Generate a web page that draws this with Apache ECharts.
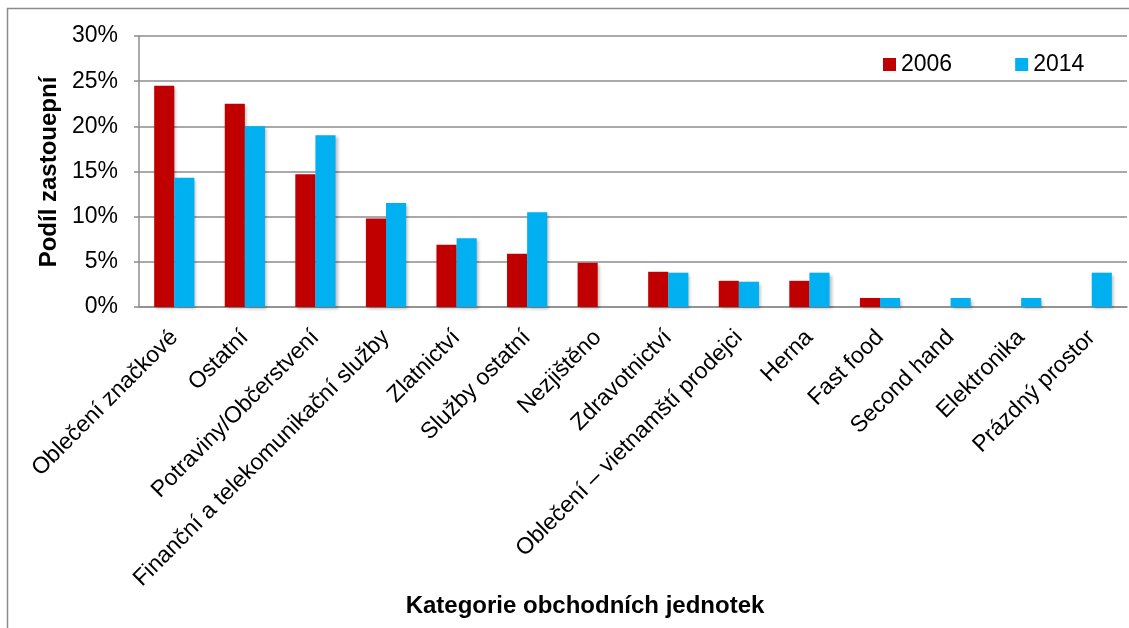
<!DOCTYPE html>
<html>
<head>
<meta charset="utf-8">
<script src="https://cdn.jsdelivr.net/npm/echarts@6/dist/echarts.min.js"></script>
<style>
  html, body { margin: 0; padding: 0; background: #fff; }
  #chart { width: 1129px; height: 628px; }
</style>
</head>
<body>
<div id="chart"></div>
<script>
// Kategorie obchodních jednotek
const categories = [
  'Oblečení značkové', 'Ostatní', 'Potraviny/Občerstvení',
  'Finanční a telekomunikační služby', 'Zlatnictví', 'Služby ostatní',
  'Nezjištěno', 'Zdravotnictví', 'Oblečení – vietnamští prodejci',
  'Herna', 'Fast food', 'Second hand', 'Elektronika', 'Prázdný prostor'
];
// Podíl v procentech
const values2006 = [24.5, 22.5, 14.7, 9.8, 6.9, 5.9, 4.9, 3.9, 2.9, 2.9, 1.0, 0, 0, 0];
const values2014 = [14.3, 20.0, 19.0, 11.5, 7.6, 10.5, 0, 3.8, 2.8, 3.8, 1.0, 1.0, 1.0, 3.8];
const seriesNames = ['2006', '2014'];
const yTicks = { min: 0, max: 30, interval: 5 };

const font = 'Liberation Sans, Arial, sans-serif';
const chart = echarts.init(document.getElementById('chart'));

const barShadow = {
  shadowBlur: 3,
  shadowOffsetX: 2,
  shadowOffsetY: 2,
  shadowColor: 'rgba(0,0,0,0.25)'
};

chart.setOption({
  animation: false,
  backgroundColor: '#fff',
  textStyle: { fontFamily: font },
  grid: { left: 139, right: 2, top: 36, bottom: 321 },
  legend: {
    left: 883,
    top: 53,
    padding: 0,
    itemWidth: 13,
    itemHeight: 13,
    itemGap: 63,
    icon: 'rect',
    textStyle: { fontSize: 23, color: '#000', fontFamily: font },
    data: seriesNames
  },
  xAxis: {
    type: 'category',
    data: categories,
    axisLine: { lineStyle: { color: '#8c8c8c', width: 1.5 } },
    axisTick: { length: 5, lineStyle: { color: '#8c8c8c', width: 1.5 } },
    axisLabel: {
      rotate: 45,
      interval: 0,
      margin: 27,
      fontSize: 23,
      color: '#000',
      fontFamily: font
    }
  },
  yAxis: {
    type: 'value',
    min: yTicks.min,
    max: yTicks.max,
    interval: yTicks.interval,
    axisLine: { show: true, lineStyle: { color: '#8c8c8c', width: 1.5 } },
    axisTick: { show: true, length: 5, lineStyle: { color: '#8c8c8c', width: 1.5 } },
    axisLabel: {
      formatter: '{value}%',
      fontSize: 23,
      color: '#000',
      margin: 21,
      fontFamily: font
    },
    splitLine: { lineStyle: { color: '#8c8c8c', width: 1.5 } }
  },
  series: [
    {
      name: seriesNames[0],
      type: 'bar',
      data: values2006,
      barGap: '0%',
      barCategoryGap: '43%',
      itemStyle: Object.assign({ color: '#C00000' }, barShadow)
    },
    {
      name: seriesNames[1],
      type: 'bar',
      data: values2014,
      barGap: '0%',
      barCategoryGap: '43%',
      itemStyle: Object.assign({ color: '#00B0F0' }, barShadow)
    }
  ],
  graphic: [
    {
      type: 'rect',
      shape: { x: 7.5, y: 8.5, width: 1140, height: 640 },
      style: { fill: 'none', stroke: '#8c8c8c', lineWidth: 1.5 },
      silent: true
    },
    {
      type: 'text',
      x: 49,
      y: 172,
      rotation: Math.PI / 2,
      style: {
        text: 'Podíl zastouepní',
        font: 'bold 24px ' + font,
        fill: '#000',
        textAlign: 'center',
        textVerticalAlign: 'middle'
      }
    },
    {
      type: 'text',
      x: 585,
      y: 606,
      style: {
        text: 'Kategorie obchodních jednotek',
        font: 'bold 24px ' + font,
        fill: '#000',
        textAlign: 'center',
        textVerticalAlign: 'middle'
      }
    }
  ]
});
</script>
</body>
</html>
